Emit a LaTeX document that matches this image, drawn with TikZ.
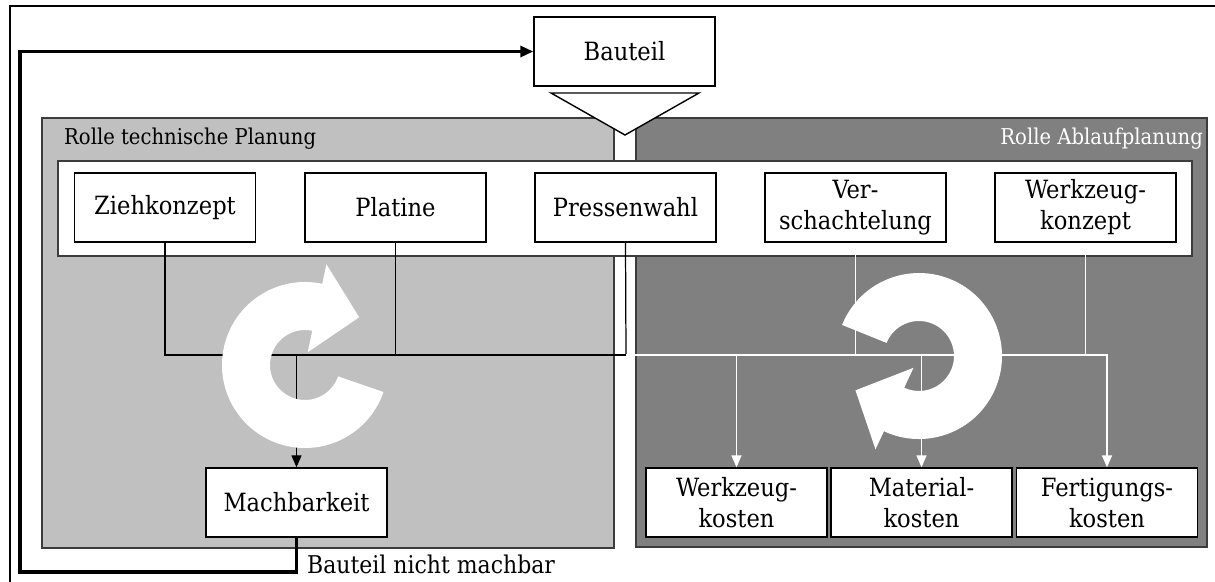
\documentclass[tikz,border=0pt]{standalone}
\usepackage{fontspec}
\setmainfont{DejaVu Serif Condensed}
\usetikzlibrary{arrows.meta}

% big white cycle arrow: #1 centre, #2 head angle, #3 tail angle (degrees, counter-clockwise)
\newcommand{\drawcyclearrow}[3]{%
  \begin{scope}[shift={#1}, yscale=-1]
    \fill[white] (#2:83) arc[start angle=#2, end angle=#3, radius=83]
      -- (#3:35) arc[start angle=#3, end angle=#2, radius=35]
      -- (#2:13) -- ({#2-36.6}:72.2) -- (#2:103) -- cycle;
  \end{scope}}

\definecolor{lightrole}{HTML}{C0C0C0}
\definecolor{darkrole}{HTML}{808080}
\definecolor{rim}{HTML}{3C3C3C}

\tikzset{
  mainfont/.style={font=\fontsize{14.3}{17.6}\selectfont},
  smallfont/.style={font=\fontsize{12.4}{15}\selectfont},
  notefont/.style={font=\fontsize{13.9}{16}\selectfont},
  taskbox/.style={draw=black, fill=white, line width=0.8pt, inner sep=0pt,
    minimum width=3.62cm, minimum height=1.38cm, align=center, mainfont},
  rolearea/.style={draw=rim, line width=0.8pt},
  blackflow/.style={draw=black, line width=0.7pt},
  whiteflow/.style={draw=white, line width=0.9pt},
  smalltip/.style={-{Triangle[length=0.24cm, width=0.2cm]}},
  loopline/.style={draw=black, line width=2.1pt},
}

\begin{document}
\begin{tikzpicture}[x=0.02cm, y=-0.02cm]
  \useasboundingbox (0,0) rectangle (1215,582);

  % outer frame
  \draw[line width=1.4pt] (10,582) -- (10,6) -- (1215,6);

  % role areas
  \path[rolearea, fill=lightrole] (42,118) rectangle (614,548);
  \path[rolearea, fill=darkrole] (636,118) rectangle (1207,547);
  \node[smallfont, anchor=west] (rtp) at (58,139) {Rolle technische Planung};
  \node[smallfont, anchor=east, text=white] (rap) at (1209,139) {Rolle Ablaufplanung};

  % band with the planning tasks
  \path[rolearea, fill=white] (58,161) rectangle (1192,256);

  % part and its hand-over triangle
  \node[taskbox] (bt) at (624.5,51.5) {Bauteil};
  \draw[fill=white, line width=0.8pt] (551,93) -- (699,93) -- (625,135) -- cycle;

  % planning tasks
  \node[taskbox] (zk) at (165,207.5) {Ziehkonzept};
  \node[taskbox] (pl) at (395.5,207.5) {Platine};
  \node[taskbox] (pw) at (625.5,207.5) {Pressenwahl};
  \node[taskbox] (vs) at (855.5,207.5) {Ver-\\schachtelung};
  \node[taskbox] (wz) at (1085.5,207.5) {Werkzeug-\\konzept};

  % results
  \node[taskbox] (mb) at (296.5,502.5) {Machbarkeit};
  \node[taskbox] (wk) at (736.5,502.5) {Werkzeug-\\kosten};
  \node[taskbox] (mk) at (921.5,502.5) {Material-\\kosten};
  \node[taskbox] (fk) at (1107,502.5) {Fertigungs-\\kosten};

  % collecting line
  \coordinate (bus) at (626,355);

  % technical planning connectors
  \draw[blackflow] (zk.south) |- (bus);
  \draw[blackflow] (pl.south) -- (pl.south |- bus);
  \draw[blackflow] (pw.south) -- (bus);
  \draw[blackflow, smalltip] (mb.north |- bus) -- (mb.north);

  % scheduling connectors
  \draw[whiteflow] (vs.south) -- (vs.south |- bus);
  \draw[whiteflow] (wz.south) -- (wz.south |- bus);
  \draw[whiteflow, smalltip] (bus) -| (fk.north);
  \draw[whiteflow, smalltip] (wk.north |- bus) -- (wk.north);
  \draw[whiteflow, smalltip] (mk.north |- bus) -- (mk.north);

  % iteration cycles
  \drawcyclearrow{(305,365)}{78}{341}
  \drawcyclearrow{(919,356)}{245}{518}

  % feedback when the part cannot be made
  \coordinate (fbl) at (20,572);
  \draw[loopline, -{Triangle[length=0.26cm, width=0.22cm]}] (mb.south) |- (fbl) |- (bt.west);
  \node[notefont, anchor=west] (nm) at (301,564) {Bauteil nicht machbar};
\end{tikzpicture}
\end{document}
